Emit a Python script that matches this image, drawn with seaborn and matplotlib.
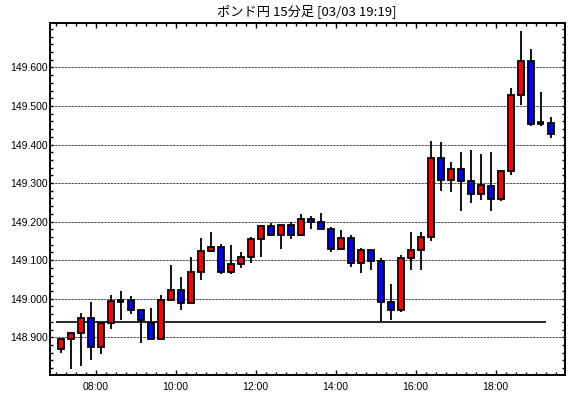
import numpy as np
import pandas as pd
import seaborn as sns
import matplotlib
matplotlib.use("Agg")
import matplotlib.pyplot as plt
from matplotlib.ticker import MultipleLocator, FixedLocator, FormatStrFormatter

# ---- data (15-minute candles, 07:00 .. 19:15) ----
opens = [148.869, 148.895, 148.910, 148.949, 148.875, 148.936, 148.995, 148.996, 148.970, 148.936,
         148.895, 148.996, 149.022, 148.988, 149.068, 149.123, 149.133, 149.068, 149.089, 149.107,
         149.154, 149.188, 149.164, 149.190, 149.164, 149.206, 149.198, 149.180, 149.128, 149.157,
         149.092, 149.126, 149.097, 148.991, 148.970, 149.105, 149.126, 149.159, 149.364, 149.307,
         149.336, 149.305, 149.271, 149.292, 149.258, 149.331, 149.529, 149.616, 149.455, 149.457]
highs = [148.895, 148.910, 148.962, 148.991, 148.936, 149.009, 149.020, 149.007, 148.970, 148.976,
         149.009, 149.087, 149.056, 149.108, 149.157, 149.172, 149.141, 149.140, 149.120, 149.160,
         149.188, 149.196, 149.190, 149.199, 149.220, 149.214, 149.222, 149.185, 149.177, 149.165,
         149.131, 149.126, 149.106, 149.038, 149.113, 149.173, 149.173, 149.408, 149.406, 149.354,
         149.380, 149.385, 149.375, 149.380, 149.331, 149.546, 149.695, 149.647, 149.535, 149.471]
lows = [148.860, 148.818, 148.826, 148.841, 148.857, 148.922, 148.946, 148.961, 148.886, 148.895,
        148.895, 148.996, 148.970, 148.988, 149.049, 149.120, 149.064, 149.064, 149.080, 149.092,
        149.109, 149.164, 149.130, 149.154, 149.162, 149.180, 149.180, 149.120, 149.128, 149.083,
        149.067, 149.074, 148.943, 148.946, 148.966, 149.074, 149.074, 149.149, 149.279, 149.276,
        149.227, 149.247, 149.255, 149.227, 149.253, 149.320, 149.503, 149.447, 149.447, 149.417]
closes = [148.895, 148.910, 148.949, 148.875, 148.936, 148.993, 148.995, 148.970, 148.944, 148.895,
          148.996, 149.022, 148.988, 149.068, 149.123, 149.133, 149.068, 149.089, 149.107, 149.154,
          149.188, 149.164, 149.190, 149.164, 149.206, 149.198, 149.180, 149.128, 149.157, 149.092,
          149.126, 149.097, 148.991, 148.970, 149.105, 149.126, 149.159, 149.364, 149.307, 149.336,
          149.305, 149.271, 149.294, 149.258, 149.331, 149.529, 149.616, 149.453, 149.455, 149.427]
ref_level = 148.940
title = "ポンド円 15分足 [03/03 19:19]"
y_ticks = [148.9, 149.0, 149.1, 149.2, 149.3, 149.4, 149.5, 149.6]
x_labels = ["08:00", "10:00", "12:00", "14:00", "16:00", "18:00"]

times = pd.date_range("2025-03-03 07:00", periods=len(opens), freq="15min")
df = pd.DataFrame({"time": times, "open": opens, "high": highs, "low": lows, "close": closes})
df["idx"] = np.arange(len(df))
df["bottom"] = df[["open", "close"]].min(axis=1)
df["height"] = (df["close"] - df["open"]).abs()
df["dir"] = np.where(df["close"] > df["open"], "up", np.where(df["close"] < df["open"], "down", "flat"))

sns.set_theme(style="ticks")
plt.rcParams["font.family"] = ["Liberation Sans", "DejaVu Sans"]

fig = plt.figure(figsize=(5.7, 3.98), dpi=100)
W, H = 570, 398
ax = fig.add_axes([50 / W, (H - 374.5) / H, 515.3 / W, (374.5 - 23.3) / H])
ax.set_facecolor("white")

# horizontal dotted grid at major y ticks
for v in y_ticks:
    ax.axhline(v, color="black", lw=0.72, linestyle=(0, (0.72, 0.72)), zorder=1)

# reference line
ax.hlines(ref_level, df["idx"].iloc[0] - 0.5, df["idx"].iloc[-1] - 0.5, color="black", lw=1.2, zorder=2)

# wicks
sns.lineplot(ax=ax)  # ensure seaborn axes styling
ax.vlines(df["idx"], df["low"], df["high"], color="black", lw=1.3, zorder=3)

# bodies
colors = {"up": "#ff0000", "down": "#0000ff"}
for d, c in colors.items():
    sub = df[df["dir"] == d]
    ax.bar(sub["idx"], sub["height"], bottom=sub["bottom"], width=0.62, color=c,
           edgecolor="black", linewidth=1.3, zorder=4)
flat = df[df["dir"] == "flat"]
ax.hlines(flat["close"], flat["idx"] - 0.33, flat["idx"] + 0.33, color="black", lw=2.6, zorder=4)

ax.set_xlim(-1.07, 50.46)
ax.set_ylim(148.8034, 149.7144)

# axes ticks
hour_pos = [i - 0.5 for i, t in enumerate(df["time"]) if t.strftime("%H:%M") in x_labels]
ax.xaxis.set_major_locator(FixedLocator(hour_pos))
ax.set_xticklabels(x_labels)
ax.xaxis.set_minor_locator(FixedLocator(list(df["idx"] - 0.5) + [df["idx"].iloc[-1] + 0.5]))
ax.yaxis.set_major_locator(FixedLocator(y_ticks))
ax.yaxis.set_major_formatter(FormatStrFormatter("%.3f"))
ax.yaxis.set_minor_locator(MultipleLocator(0.02))

ax.tick_params(axis="both", which="both", direction="in", top=True, right=True,
               colors="black", labelsize=7.5, width=1.0)
ax.tick_params(axis="x", which="major", length=3.6, pad=5.5)
ax.tick_params(axis="x", which="minor", length=2.2)
ax.tick_params(axis="y", which="major", length=2.4, pad=1.3)
ax.tick_params(axis="y", which="minor", length=2.2)
for s in ax.spines.values():
    s.set_visible(True)
    s.set_color("black")
    s.set_linewidth(1.4)
ax.set_xlabel("")
ax.set_ylabel("")

fig.text(307 / W, 1 - 11.5 / H, title, ha="center", va="center", fontsize=9.5,
         family=["Noto Sans CJK JP", "DejaVu Sans"], color="black")

fig.savefig("out.png", dpi=100, facecolor="white")
